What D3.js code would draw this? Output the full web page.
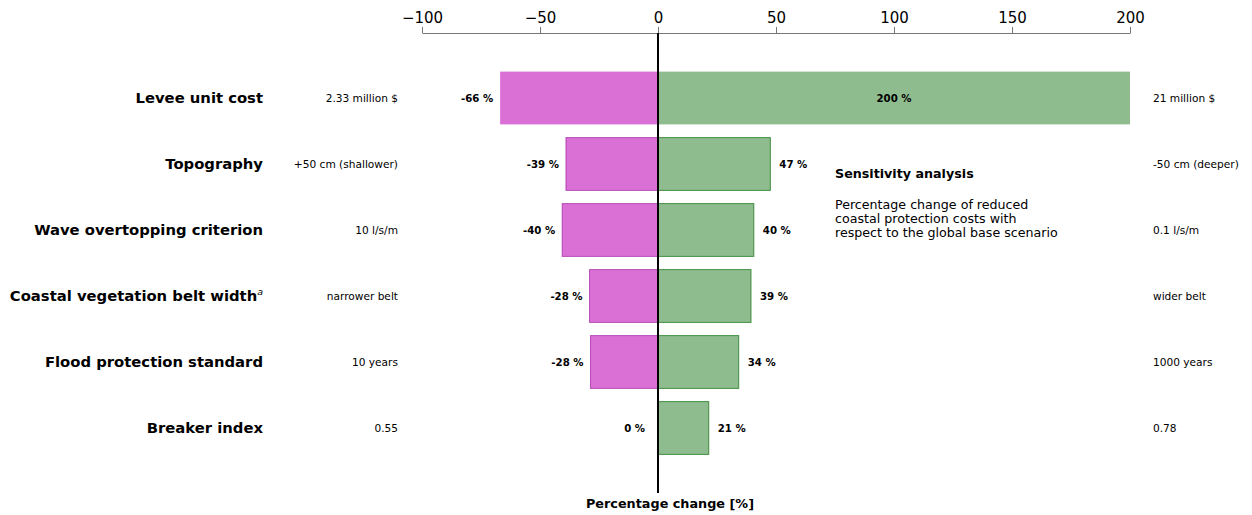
<!DOCTYPE html>
<html><head><meta charset="utf-8">
<script src="https://cdn.jsdelivr.net/npm/d3@7"></script>
<style>body{margin:0;background:#fff;} text{font-family:"DejaVu Sans",sans-serif;}</style>
</head><body>
<svg id="c" width="1252" height="515"></svg>
<script>
const categories = ["Levee unit cost","Topography","Wave overtopping criterion","Coastal vegetation belt width","Flood protection standard","Breaker index"];
const lowValues  = [-66.9, -39, -40.6, -29, -28.6, 0];
const highValues = [200, 47.6, 40.6, 39.4, 34.2, 21.5];
const lowLabels  = ["-66 %","-39 %","-40 %","-28 %","-28 %","0 %"];
const highLabels = ["200 %","47 %","40 %","39 %","34 %","21 %"];
const lowConditions  = ["2.33 million $","+50 cm (shallower)","10 l/s/m","narrower belt","10 years","0.55"];
const highConditions = ["21 million $","-50 cm (deeper)","0.1 l/s/m","wider belt","1000 years","0.78"];
const xTicks = [-100,-50,0,50,100,150,200];

const svg = d3.select("#c");
const x = d3.scaleLinear().domain([-100,200]).range([422,1130]);
const y = d3.scaleBand().domain(categories).range([65,461]).paddingInner(0.2).paddingOuter(0.1);

// axis
const ax = svg.append("g").attr("transform","translate(0,33)")
  .call(d3.axisTop(x).tickValues(xTicks).tickSize(6).tickSizeOuter(0).tickFormat(d=>d<0?"\u2212"+Math.abs(d):d));
ax.select(".domain").attr("stroke","#777").attr("stroke-width",1.2);
ax.selectAll(".tick line").attr("stroke","#777").attr("stroke-width",1);
ax.selectAll(".tick text").attr("font-size",15).attr("fill","#000").attr("font-family","DejaVu Sans").attr("dy","-0.05em");

const g = svg.append("g");
categories.forEach((c,i)=>{
  const yt = y(c), h = y.bandwidth(), cy = yt + h/2;
  if (lowValues[i] < 0) {
    g.append("rect").attr("x",x(lowValues[i])).attr("y",yt).attr("width",x(0)-x(lowValues[i])).attr("height",h)
      .attr("fill","#da70d6").attr("stroke", i===0?"none":"#a020a0").attr("stroke-opacity",0.7).attr("stroke-width",1);
  }
  g.append("rect").attr("x",x(0)).attr("y",yt).attr("width",x(highValues[i])-x(0)).attr("height",h)
    .attr("fill","#8fbc8f").attr("stroke", i===0?"none":"#1f7a1f").attr("stroke-opacity",0.8).attr("stroke-width",1);

  // value labels
  const lx = lowValues[i] < 0 ? x(lowValues[i]) - 7 : x(0) - 13;
  g.append("text").attr("x",lx).attr("y",cy).attr("dy","0.35em").attr("text-anchor","end")
    .attr("font-size",10.2).attr("font-weight","bold").text(lowLabels[i]);
  if (highValues[i] >= 200) {
    g.append("text").attr("x",(x(0)+x(200))/2).attr("y",cy).attr("dy","0.35em").attr("text-anchor","middle")
      .attr("font-size",10.2).attr("font-weight","bold").text(highLabels[i]);
  } else {
    g.append("text").attr("x",x(highValues[i])+9).attr("y",cy).attr("dy","0.35em").attr("text-anchor","start")
      .attr("font-size",10.2).attr("font-weight","bold").text(highLabels[i]);
  }

  // category labels
  const t = g.append("text").attr("x",263).attr("y",cy).attr("dy","0.35em").attr("text-anchor","end")
    .attr("font-size",14.8).attr("font-weight","bold").text(c);
  if (i===3) t.append("tspan").attr("font-size",9.5).attr("font-style","italic").attr("font-weight","normal").attr("dy","-0.6em").text("a");

  // condition labels
  g.append("text").attr("x",398).attr("y",cy).attr("dy","0.35em").attr("text-anchor","end")
    .attr("font-size",10.6).text(lowConditions[i]);
  g.append("text").attr("x",1153).attr("y",cy).attr("dy","0.35em").attr("text-anchor","start")
    .attr("font-size",10.6).text(highConditions[i]);
});

// zero line
svg.append("line").attr("x1",x(0)).attr("x2",x(0)).attr("y1",33).attr("y2",493).attr("stroke","#000").attr("stroke-width",2);

// x label
svg.append("text").attr("x",(587+753)/2).attr("y",508).attr("text-anchor","middle").attr("font-size",12.8).attr("font-weight","bold").text("Percentage change [%]");

// annotation
svg.append("text").attr("x",835).attr("y",178).attr("font-size",12.7).attr("font-weight","bold").text("Sensitivity analysis");
const para = ["Percentage change of reduced","coastal protection costs with","respect to the global base scenario"];
para.forEach((l,k)=>svg.append("text").attr("x",835).attr("y",209+k*14).attr("font-size",12.65).text(l));
</script>
</body></html>
